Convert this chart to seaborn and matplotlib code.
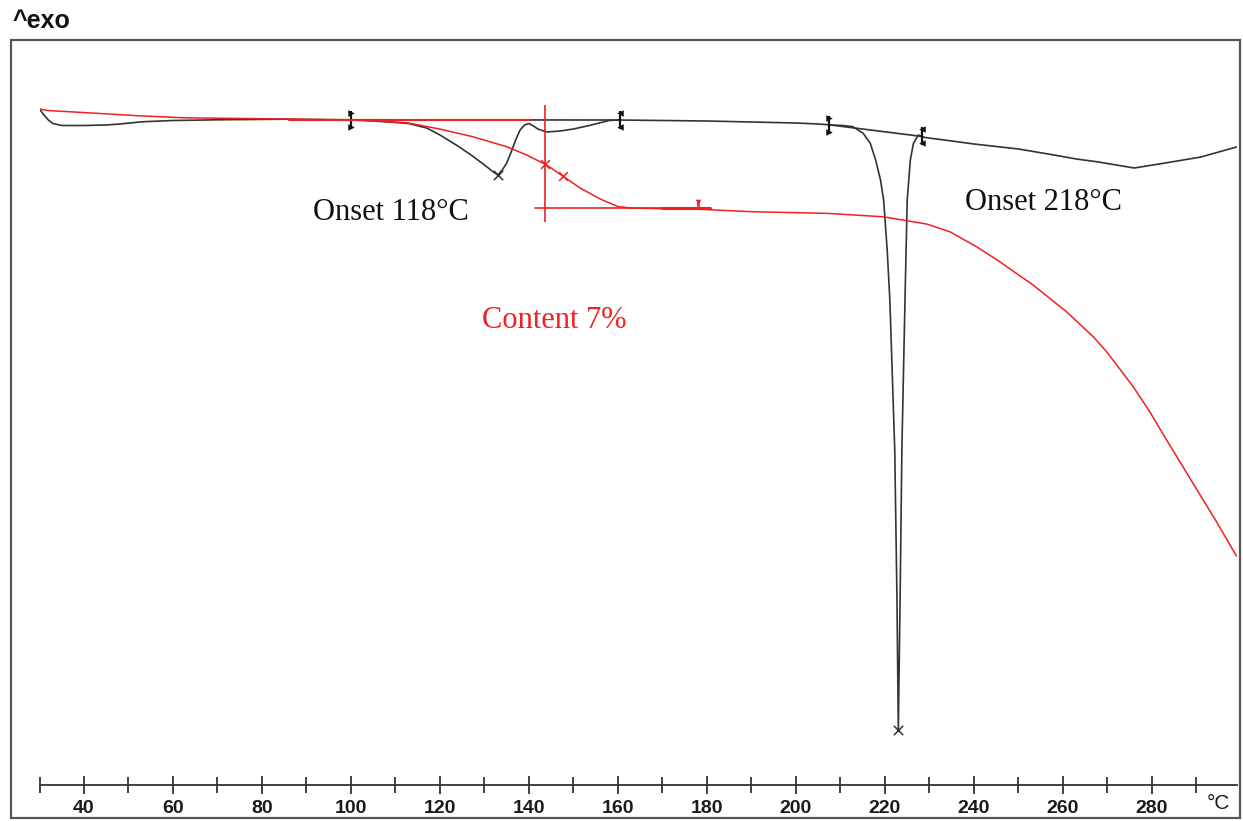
import numpy as np
import pandas as pd
import matplotlib
matplotlib.use("Agg")
import matplotlib.pyplot as plt
from matplotlib.patches import Rectangle
import seaborn as sns

# ---- DSC heat-flow curve (arbitrary units, exo up) ----
dsc_temp = [30, 31, 32, 33, 35, 40, 45, 48, 53, 60, 70, 85, 100, 105, 110, 113,
            117, 120, 124, 127, 130, 132, 133, 134, 135, 136, 137, 138, 139, 140,
            141, 142, 144, 147, 150, 154, 158, 160, 170, 180, 190, 200, 205, 208,
            210.5, 212.8, 215.1, 216.7, 217.9, 219.0, 219.7, 220.5, 221.1, 222.2,
            222.7, 223.0, 223.4, 223.8, 224.5, 225.0, 225.7, 226.4, 227.5, 229,
            235, 240, 250, 258, 263, 268, 276, 283, 291, 299]
dsc_flow = [0.11, 0.05, 0.00, -0.035, -0.055, -0.055, -0.05, -0.04, -0.018, -0.005,
            0.002, 0.008, 0.002, -0.01, -0.025, -0.035, -0.08, -0.15, -0.26, -0.35,
            -0.45, -0.52, -0.55, -0.50, -0.43, -0.32, -0.20, -0.10, -0.05, -0.035,
            -0.06, -0.09, -0.12, -0.11, -0.09, -0.05, -0.005, 0.0, -0.005, -0.01,
            -0.02, -0.03, -0.04, -0.05,
            -0.055, -0.067, -0.133, -0.233, -0.40, -0.60, -0.80, -1.30, -1.80,
            -3.30, -4.80, -6.10, -4.80, -3.30, -1.80, -0.80, -0.40, -0.233, -0.15,
            -0.175, -0.21, -0.24, -0.29, -0.35, -0.39, -0.42, -0.48, -0.43, -0.37,
            -0.27]

# ---- TGA mass curve (%) ----
tga_temp = [30, 32, 43, 52, 62, 85, 99, 105, 112.6, 120, 127.4, 135, 139.5, 144,
            147.8, 151.5, 156, 160, 163, 170, 178.4, 190.3, 207, 219.6, 225,
            229.4, 234.6, 240.6, 245.8, 253.3, 260.8, 266.8, 269.8, 275.8, 279.5,
            283.3, 289.7, 294.5, 299]
tga_mass = [100.08, 99.96, 99.74, 99.55, 99.39, 99.29, 99.21, 99.15, 98.99, 98.49,
            97.88, 97.09, 96.43, 95.63, 94.71, 93.81, 92.94, 92.34, 92.22, 92.17,
            92.12, 91.93, 91.80, 91.53, 91.21,
            90.95, 90.34, 89.15, 87.96, 86.11, 83.99, 82.01, 80.82, 78.04, 76.06,
            73.81, 70.10, 67.33, 64.60]

# ---- evaluation results ----
dsc_limits_left = [100, 207.5]      # integration limits (left)
dsc_limits_right = [160.5, 228.4]   # integration limits (right)
dsc_peaks = [133, 223]
onset_labels = ["Onset 118°C", "Onset 218°C"]

step_upper = 99.25     # mass level before the step (%)
step_content = 7.0     # mass loss of the step (%)
step_mid_temp = 143.6
step_marks = [143.6, 147.6]
tga_limit = 178

x_major = list(range(40, 300, 20))
x_minor = list(range(30, 300, 20))

sns.set_style("white")
plt.rcParams["font.family"] = ["Liberation Sans", "DejaVu Sans"]

W, H = 1243, 821
fig = plt.figure(figsize=(W / 100, H / 100), dpi=100)
ax = fig.add_axes([39.5 / W, 36 / H, 1197 / W, 745 / H])
ax2 = ax.twinx()

black = "#333333"
red = "#f02020"

dsc = pd.DataFrame({"T": dsc_temp, "flow": dsc_flow})
tga = pd.DataFrame({"T": tga_temp, "mass": tga_mass})

sns.lineplot(data=dsc, x="T", y="flow", ax=ax, color=black, lw=1.2,
             sort=False, estimator=None)
sns.lineplot(data=tga, x="T", y="mass", ax=ax2, color=red, lw=1.1,
             sort=False, estimator=None)

ax.set_xlim(30, 299)
ax.set_ylim(-6.65, 0.8)
ax2.set_ylim(46.43, 105.56)

# DSC baselines between integration limits
for tl, tr in zip(dsc_limits_left, dsc_limits_right):
    yl = np.interp(tl, dsc_temp, dsc_flow)
    yr = np.interp(tr, dsc_temp, dsc_flow)
    ax.plot([tl, tr], [yl, yr], color=black, lw=1.2)
    for t, y, m in ((tl, yl, ">"), (tr, yr, "<")):
        ax.vlines(t, y - 0.09, y + 0.09, color="#111111", lw=1.6)
        ax.scatter([t, t], [y - 0.07, y + 0.07], marker=m, s=22, color="#111111",
                   linewidths=0, zorder=3)

# peak markers
peak_y = np.interp(dsc_peaks, dsc_temp, dsc_flow)
ax.scatter(dsc_peaks, peak_y, marker="x", s=45, color=black, linewidths=1.1,
           zorder=3)

# TGA step evaluation
step_lower = step_upper - step_content
ax2.plot([86, 140.5], [step_upper, step_upper], color=red, lw=1.5)
ax2.plot([141.4, 180.7], [step_lower, step_lower], color=red, lw=1.2)
ax2.plot([170, 180.7], [step_lower, step_lower], color=red, lw=2.2)
ax2.vlines(step_mid_temp, step_lower - 1.1, step_upper + 1.15, color=red, lw=1.2)
ax2.scatter(step_marks, np.interp(step_marks, tga_temp, tga_mass), marker="x",
            s=40, color=red, linewidths=1.1, zorder=3)
ax2.vlines(tga_limit, step_lower - 0.1, step_lower + 0.5, color=red, lw=1.8)
ax2.scatter([tga_limit], [step_lower + 0.45], marker="v", s=16, color=red,
            linewidths=0)

# annotations
serif = ["Liberation Serif", "DejaVu Serif"]
ax.text(91.5, -0.93, onset_labels[0], fontsize=22, family=serif, color="#111111",
        va="center", ha="left")
ax.text(238, -0.82, onset_labels[1], fontsize=22, family=serif, color="#111111",
        va="center", ha="left")
ax2.text(129.4, 83.3, f"Content {step_content:.0f}%", fontsize=22, family=serif,
         color=red, va="center", ha="left")

# axes styling: only the temperature axis is shown
for s in ("left", "right", "top"):
    ax.spines[s].set_visible(False)
    ax2.spines[s].set_visible(False)
ax2.spines["bottom"].set_visible(False)
ax.spines["bottom"].set_color(black)
ax.spines["bottom"].set_linewidth(1.3)
ax.set_yticks([])
ax2.set_yticks([])
ax.set_xlabel("")
ax.set_ylabel("")
ax2.set_ylabel("")
ax.set_xticks(x_major)
ax.set_xticks(x_minor, minor=True)
ax.set_xticklabels([str(v) for v in x_major])
ax.tick_params(axis="x", which="both", bottom=True)
ax.tick_params(axis="x", which="major", direction="inout", length=13, width=1.3,
               color=black, labelsize=14, pad=4, labelcolor="#1a1a1a")
ax.tick_params(axis="x", which="minor", direction="inout", length=12, width=1.3,
               color=black)
for lab in ax.get_xticklabels():
    lab.set_fontweight("bold")

fig.text(1218 / W, 1 - 803 / H, "°C", fontsize=15, color="#1a1a1a",
         ha="center", va="center")
fig.text(12 / W, 1 - 21 / H, "^exo", fontsize=18, fontweight="bold",
         color="#111111", ha="left", va="center")

# outer frame
fig.patches.append(Rectangle((11 / W, 3 / H), 1229 / W, 778 / H,
                             transform=fig.transFigure, fill=False,
                             edgecolor="#555555", lw=1.6))

fig.savefig("out.png", dpi=100)
